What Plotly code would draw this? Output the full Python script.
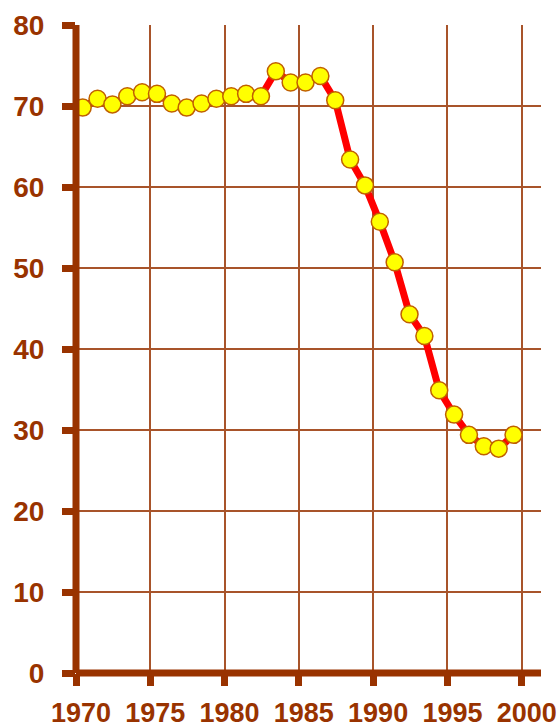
import plotly.graph_objects as go

years = [1970, 1971, 1972, 1973, 1974, 1975, 1976, 1977, 1978, 1979,
         1980, 1981, 1982, 1983, 1984, 1985, 1986, 1987, 1988, 1989,
         1990, 1991, 1992, 1993, 1994, 1995, 1996, 1997, 1998, 1999]
values = [69.8, 70.9, 70.2, 71.2, 71.7, 71.5, 70.3, 69.8, 70.3, 70.9,
          71.2, 71.5, 71.2, 74.3, 72.9, 72.9, 73.7, 70.7, 63.4, 60.2,
          55.7, 50.7, 44.3, 41.6, 34.9, 31.9, 29.4, 28.0, 27.7, 29.4]
x_ticks = [1970, 1975, 1980, 1985, 1990, 1995, 2000]
y_ticks = [0, 10, 20, 30, 40, 50, 60, 70, 80]

BROWN = "#993300"
GRID = "#A8542A"
XFONT = dict(family="Liberation Sans, Arial, sans-serif",
             size=27, color=BROWN, weight="bold")
YFONT = dict(family="Liberation Sans, Arial, sans-serif",
             size=28, color=BROWN, weight="bold")

x_mid = [y + 0.45 for y in years]

fig = go.Figure()
fig.add_trace(go.Scatter(
    x=x_mid, y=values, mode="lines+markers",
    line=dict(color="#FF0000", width=7),
    marker=dict(symbol="circle", size=17, color="#FFFF00",
                line=dict(color="#C06000", width=1.5)),
    showlegend=False, hoverinfo="skip", cliponaxis=False,
))

fig.update_layout(
    width=560, height=728,
    margin=dict(l=76, r=19, t=25, b=55),
    paper_bgcolor="white", plot_bgcolor="white",
    shapes=[
        dict(type="line", xref="paper", yref="paper", x0=0, x1=0, y0=0, y1=1,
             line=dict(color=BROWN, width=7), layer="above"),
        dict(type="line", xref="paper", yref="paper", x0=0, x1=1, y0=0, y1=0,
             line=dict(color=BROWN, width=7), layer="above"),
    ],
)
fig.update_xaxes(
    range=[1970, 2001.3], tickvals=x_ticks, ticktext=[str(v) for v in x_ticks],
    showgrid=True, gridcolor=GRID, gridwidth=2,
    showline=False,
    ticks="outside", ticklen=12, tickwidth=7, tickcolor=BROWN,
    tickfont=XFONT, zeroline=False, ticklabelshift=5, ticklabelstandoff=4,
    tickangle=0, automargin=False,
)
fig.update_yaxes(
    range=[0, 80], tickvals=y_ticks, ticktext=[str(v) for v in y_ticks],
    showgrid=True, gridcolor=GRID, gridwidth=2,
    showline=False,
    ticks="outside", ticklen=13, tickwidth=7, tickcolor=BROWN,
    tickfont=YFONT, zeroline=False, ticklabelstandoff=12, automargin=False,
)

fig.write_html("out.html",
               config={"displayModeBar": False},
               post_script="document.body.style.margin='0';document.body.style.overflow='hidden';")
